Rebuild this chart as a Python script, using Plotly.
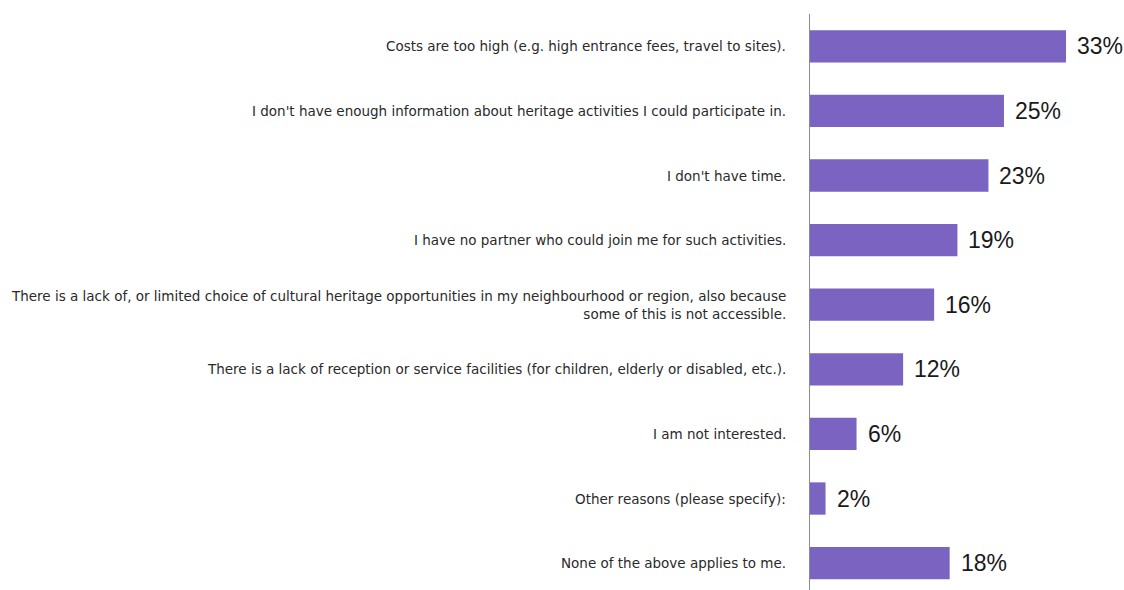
import plotly.graph_objects as go

reasons = [
    "Costs are too high (e.g. high entrance fees, travel to sites).",
    "I don't have enough information about heritage activities I could participate in.",
    "I don't have time.",
    "I have no partner who could join me for such activities.",
    "There is a lack of, or limited choice of cultural heritage opportunities in my neighbourhood or region, also because<br>some of this is not accessible.",
    "There is a lack of reception or service facilities (for children, elderly or disabled, etc.).",
    "I am not interested.",
    "Other reasons (please specify):",
    "None of the above applies to me.",
]
shares = [33, 25, 23, 19, 16, 12, 6, 2, 18]
value_labels = [f"{v}%" for v in shares]

bar_color = "#7B63C1"
positions = list(range(len(reasons)))

fig = go.Figure()
fig.add_trace(go.Bar(
    x=shares, y=positions, orientation="h",
    marker=dict(color=bar_color, line=dict(width=0)),
    width=0.5, hoverinfo="skip",
))

# value labels just past the end of each bar
for pos, v, lab in zip(positions, shares, value_labels):
    fig.add_annotation(
        x=v, y=pos, xref="x", yref="y", text=lab, showarrow=False,
        xanchor="left", yanchor="middle", xshift=9,
        font=dict(family="Liberation Sans, Arial, sans-serif", size=23, color="#1a1a1a"),
    )

# category labels, right-aligned against the axis
for pos, r in zip(positions, reasons):
    fig.add_annotation(
        x=0, y=pos, xref="x", yref="y", text=r, showarrow=False,
        xanchor="right", yanchor="middle", align="right", xshift=-22,
        font=dict(family="DejaVu Sans, sans-serif", size=13.5, color="#2a2a2a"),
    )

fig.update_layout(
    width=1124, height=590,
    margin=dict(l=810, r=0, t=14, b=0),
    paper_bgcolor="white", plot_bgcolor="white",
    showlegend=False,
    xaxis=dict(range=[0, 40.47], showgrid=False, zeroline=False, showticklabels=False,
               showline=False, ticks=""),
    yaxis=dict(range=[8.416, -0.5], showgrid=False, zeroline=False, showticklabels=False,
               ticks="", showline=True, linecolor="#8c8c8c", linewidth=1),
)

fig.write_html("out.html")
